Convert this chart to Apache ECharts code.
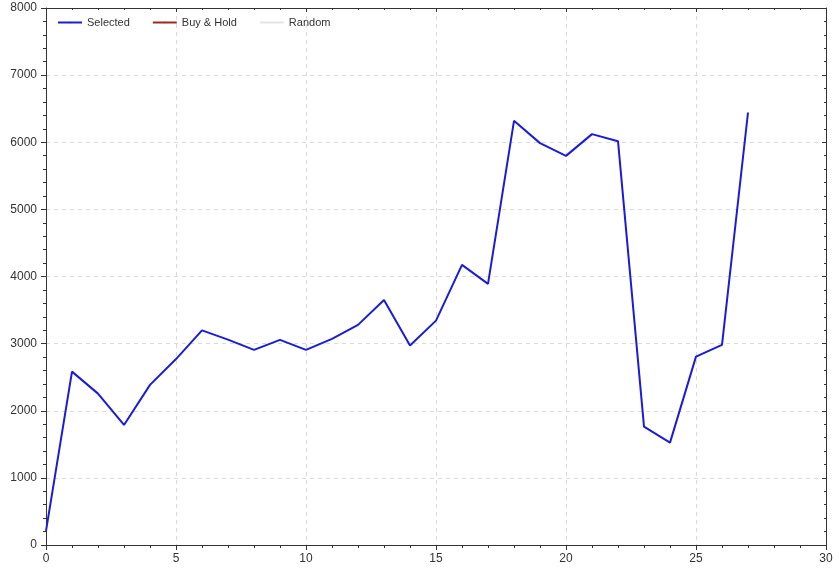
<!DOCTYPE html>
<html>
<head>
<meta charset="utf-8">
<script src="https://cdn.jsdelivr.net/npm/echarts@6/dist/echarts.min.js"></script>
<style>html,body{margin:0;padding:0;background:#fff}#c{width:839px;height:569px}</style>
</head>
<body>
<div id="c"></div>
<script>
var seriesNames = ["Selected", "Buy & Hold", "Random"];
var xValues = [0,1,2,3,4,5,6,7,8,9,10,11,12,13,14,15,16,17,18,19,20,21,22,23,24,25,26,27];
var selected = [210,2583,2255,1788,2385,2770,3197,3060,2906,3055,2906,3070,3279,3651,2972,3343,4173,3890,6319,5987,5797,6121,6016,1763,1525,2806,2981,6443];
var buyHold = [];
var randomSeries = [];

var font = 'Arial, "Liberation Sans", sans-serif';
function pair(data) { return data.map(function(v, i){ return [xValues[i], v]; }); }
function plain(v) { return String(v); }

var chart = echarts.init(document.getElementById('c'), null, {renderer: 'canvas'});
chart.setOption({
  animation: false,
  backgroundColor: '#fff',
  grid: {left: 46, right: 13, top: 8, bottom: 24, containLabel: false},
  legend: {
    left: 52, top: 12, itemWidth: 24, itemHeight: 2, itemGap: 22,
    textStyle: {fontSize: 11, color: '#333', fontFamily: font},
    data: seriesNames
  },
  xAxis: [
    {
      type: 'value', min: 0, max: 30, interval: 5, position: 'bottom',
      axisLine: {show: true, onZero: false, lineStyle: {color: '#333'}},
      axisTick: {show: true, length: 5, lineStyle: {color: '#333'}},
      minorTick: {show: true, splitNumber: 5, length: 3, lineStyle: {color: '#333'}},
      axisLabel: {color: '#333', fontSize: 12, fontFamily: font, margin: 8, formatter: plain},
      splitLine: {show: true, lineStyle: {color: '#dadada', type: [4, 4]}}
    },
    {
      type: 'value', min: 0, max: 30, interval: 5, position: 'top',
      axisLine: {show: true, onZero: false, lineStyle: {color: '#333'}},
      axisTick: {show: true, inside: true, length: 4, lineStyle: {color: '#333'}},
      minorTick: {show: true, splitNumber: 5, length: 2, lineStyle: {color: '#333'}},
      axisLabel: {show: false}, splitLine: {show: false}
    }
  ],
  yAxis: [
    {
      type: 'value', min: 0, max: 8000, interval: 1000, position: 'left',
      axisLine: {show: true, onZero: false, lineStyle: {color: '#333'}},
      axisTick: {show: true, length: 5, lineStyle: {color: '#333'}},
      minorTick: {show: true, splitNumber: 5, length: 3, lineStyle: {color: '#333'}},
      axisLabel: {color: '#333', fontSize: 12, fontFamily: font, margin: 9, formatter: plain},
      splitLine: {show: true, lineStyle: {color: '#dadada', type: [4, 4]}}
    },
    {
      type: 'value', min: 0, max: 8000, interval: 1000, position: 'right',
      axisLine: {show: true, onZero: false, lineStyle: {color: '#333'}},
      axisTick: {show: true, inside: true, length: 4, lineStyle: {color: '#333'}},
      minorTick: {show: true, splitNumber: 5, length: 2, lineStyle: {color: '#333'}},
      axisLabel: {show: false}, splitLine: {show: false}
    }
  ],
  series: [
    {name: seriesNames[0], type: 'line', data: pair(selected), symbol: 'none',
     lineStyle: {color: '#1c1cd6', width: 2}, itemStyle: {color: '#1c1cd6'}},
    {name: seriesNames[1], type: 'line', data: pair(buyHold), symbol: 'none',
     lineStyle: {color: '#9b2a22', width: 2}, itemStyle: {color: '#9b2a22'}},
    {name: seriesNames[2], type: 'line', data: pair(randomSeries), symbol: 'none',
     lineStyle: {color: '#e4e4e4', width: 2}, itemStyle: {color: '#e4e4e4'}}
  ]
});
</script>
</body>
</html>
